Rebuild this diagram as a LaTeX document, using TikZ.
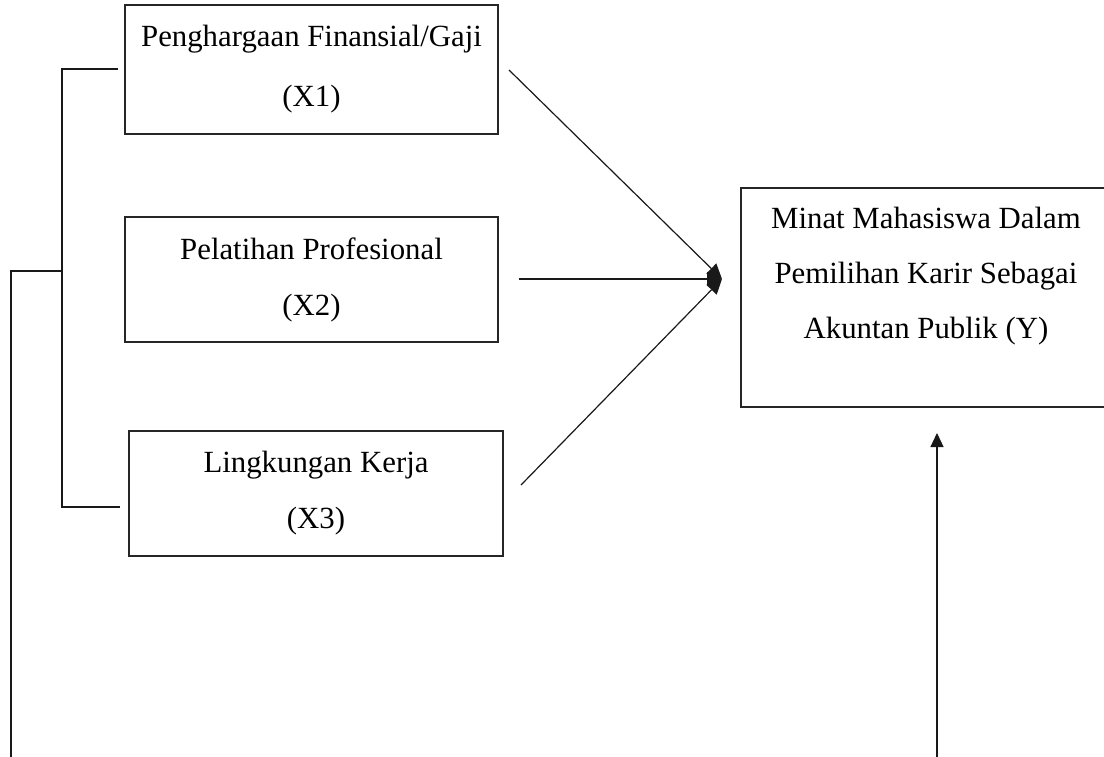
\documentclass[tikz,border=0pt]{standalone}
\usepackage{fontspec}
\setmainfont{Liberation Serif}
\usetikzlibrary{arrows.meta}
\begin{document}
\begin{tikzpicture}[x=1pt,y=-1pt,
  box/.style={draw=black!85,line width=1.3pt,rectangle,inner sep=0pt,
    font=\fontsize{30.8}{56}\selectfont,align=center},
  txt/.style={font=\fontsize{30.8}{55}\selectfont,align=center,inner sep=0pt},
  conn/.style={line width=1.2pt,black!90},
  arr/.style={conn,-{Triangle[length=15pt,width=14pt]}}]
\clip (0,0) rectangle (1104,757);
\fill[white] (0,0) rectangle (1104,757);
% boxes
\node[box,minimum width=373pt,minimum height=129pt,
  font=\fontsize{30.8}{60}\selectfont] (x1) at (311.5,69.5)
  {Penghargaan Finansial/Gaji\\(X1)};
\node[box,minimum width=373pt,minimum height=125pt] (x2) at (311.5,279.5)
  {Pelatihan Profesional\\(X2)};
\node[box,minimum width=374pt,minimum height=125pt] (x3) at (316,493.5)
  {Lingkungan Kerja\\(X3)};
\node[box,minimum width=370pt,minimum height=219pt] (y) at (926,297.5) {};
\node[txt] (ytext) at (926,276)
  {Minat Mahasiswa Dalam\\Pemilihan Karir Sebagai\\Akuntan Publik (Y)};
% arrow endpoints
\coordinate (tip) at (722,279);
\coordinate (s1) at (509,70);
\coordinate (s2) at (519,279);
\coordinate (s3) at (521,485);
\coordinate (ub) at (937,757);
\coordinate (ut) at (937,433);
\draw[arr] (s1) -- (tip);
\draw[arr] (s2) -- (tip);
\draw[arr] (s3) -- (tip);
\draw[conn,-{Triangle[length=14pt,width=13pt]}] (ub) -- (ut);
% bracket
\coordinate (b1) at (118,69);
\coordinate (bt) at (62,69);
\coordinate (bm) at (62,271);
\coordinate (bb) at (62,507);
\coordinate (b3) at (120,507);
\coordinate (lm) at (11,271);
\coordinate (lb) at (11,757);
\draw[conn] (b1) -- (bt) -- (bb) -- (b3);
\draw[conn] (bm) -- (lm) -- (lb);
\end{tikzpicture}
\end{document}
